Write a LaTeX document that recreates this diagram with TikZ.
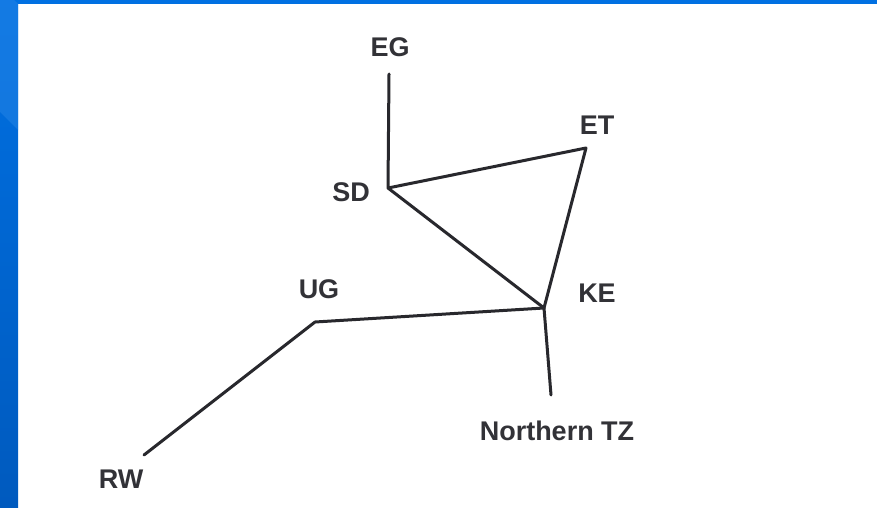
\documentclass[tikz,border=0pt]{standalone}
\usepackage{fontspec}
\setmainfont{Liberation Sans}
\usepackage{tikz}
\usetikzlibrary{positioning}
\usepackage{xcolor}
\definecolor{BarBlue}{RGB}{0, 112, 226}
\definecolor{BarBlueDark}{RGB}{0, 90, 190}
\definecolor{LinkGray}{RGB}{40, 40, 45}
\definecolor{LabelGray}{RGB}{50, 50, 55}

\begin{document}
\begin{tikzpicture}[x=1pt, y=-1pt, link/.style={draw=LinkGray, line width=3pt, line cap=round, line join=round}, label/.style={text=LabelGray, font=\fontsize{27}{27}\selectfont\bfseries, inner sep=0pt}]

\useasboundingbox (0,0) rectangle (877,508);
\fill[white] (0,0) rectangle (877,508);
\shade[top color=BarBlue, bottom color=BarBlueDark] (0,0) rectangle (18,508);
\fill[BarBlue] (0,0) rectangle (877,4);
\fill[BarBlue!85!white, opacity=0.5] (0,0) -- (14,0) -- (18,4) -- (18,130) -- (0,112) -- cycle;

\coordinate (eg) at (389,74);
\coordinate (sd) at (388,188);
\coordinate (et) at (586,148);
\coordinate (ke) at (544,308);
\coordinate (ug) at (315,322);
\coordinate (tz) at (551,395);
\coordinate (rw) at (144,455);

\node[label] (egLabel) at (390,47) {EG};
\node[label] (etLabel) at (597,125) {ET};
\node[label] (sdLabel) at (351,192) {SD};
\node[label] (ugLabel) at (319,289) {UG};
\node[label] (keLabel) at (597,293) {KE};
\node[label] (tzLabel) at (557,431) {Northern TZ};
\node[label] (rwLabel) at (121,479) {RW};

\draw[link] (eg) -- (sd) -- (et) -- (ke) -- (sd);
\draw[link] (rw) -- (ug) -- (ke) -- (tz);

\end{tikzpicture}
\end{document}
